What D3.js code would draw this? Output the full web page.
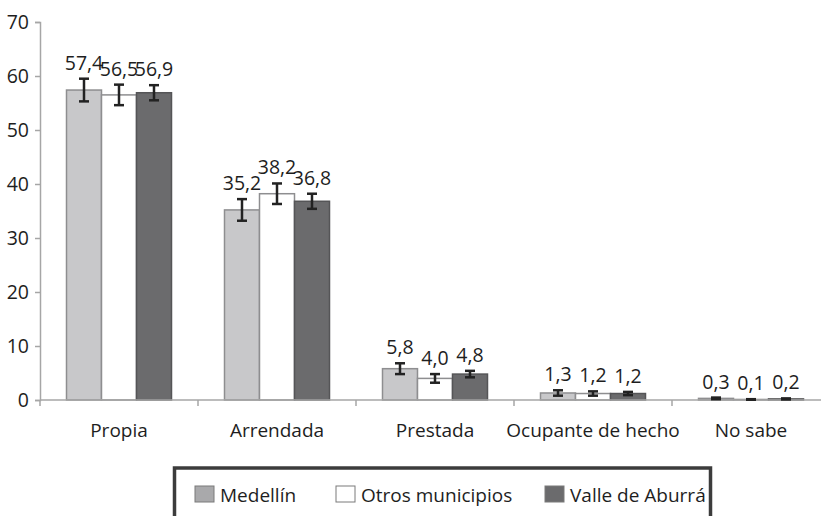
<!DOCTYPE html>
<html>
<head>
<meta charset="utf-8">
<script src="https://cdn.jsdelivr.net/npm/d3@7"></script>
<style>
  body { margin: 0; background: #fff; }
  svg { display: block; font-family: "Open Sans", sans-serif; }
</style>
</head>
<body>
<div id="chart"><svg width="821" height="516"></svg></div>
<script>
var categories = ["Propia", "Arrendada", "Prestada", "Ocupante de hecho", "No sabe"];
var seriesNames = ["Medellín", "Otros municipios", "Valle de Aburrá"];

var medellin = [57.4, 35.2, 5.8, 1.3, 0.3];
var otros = [56.5, 38.2, 4.0, 1.2, 0.1];
var valle = [56.9, 36.8, 4.8, 1.2, 0.2];

// half-width of the confidence interval
var medellinErr = [2.1, 2.0, 1.0, 0.5, 0.15];
var otrosErr = [1.9, 1.9, 0.8, 0.4, 0.05];
var valleErr = [1.4, 1.4, 0.6, 0.3, 0.1];

var yTicks = [0, 10, 20, 30, 40, 50, 60, 70];

var fills = ["#c8c8ca", "#ffffff", "#6b6b6d"];
var strokes = ["#8e8e90", "#8e8e90", "#555557"];
var swatchFills = ["#a9a9ab", "#ffffff", "#6b6b6d"];

var values = [medellin, otros, valle];
var errors = [medellinErr, otrosErr, valleErr];

var svg = d3.select("#chart svg"),
  width = +svg.attr("width"),
  height = +svg.attr("height");

var x0 = d3.scaleBand()
  .domain(categories)
  .range([40, 830])
  .paddingInner(0)
  .paddingOuter(0);

var groupWidth = 105;
var x1 = d3.scaleBand()
  .domain(seriesNames)
  .range([0, groupWidth]);

var y = d3.scaleLinear()
  .domain([0, 70])
  .range([400, 22]);

// flatten into one list of bars
var bars = [];
categories.forEach(function (c, i) {
  seriesNames.forEach(function (s, j) {
    bars.push({ cat: c, series: s, idx: j, value: values[j][i], err: errors[j][i] });
  });
});

function barX(d) {
  return x0(d.cat) + (x0.bandwidth() - groupWidth) / 2 + x1(d.series);
}

// y axis
var yAxis = d3.axisLeft(y)
  .tickValues(yTicks)
  .tickSize(5)
  .tickPadding(6)
  .tickFormat(d3.format("d"));

var gy = svg.append("g")
  .attr("transform", "translate(40,0)")
  .call(yAxis);
gy.select(".domain").attr("stroke", "#a6a6a6").attr("stroke-width", 1.5);
gy.selectAll(".tick line").attr("stroke", "#a6a6a6").attr("stroke-width", 1.5);
gy.selectAll(".tick text")
  .attr("fill", "#1e1e1e")
  .style("font-size", "19.5px")
  .style("font-family", "Open Sans, sans-serif");

// bars
svg.append("g")
  .selectAll("rect")
  .data(bars)
  .enter().append("rect")
  .attr("x", barX)
  .attr("y", function (d) { return y(d.value); })
  .attr("width", x1.bandwidth())
  .attr("height", function (d) { return y(0) - y(d.value); })
  .attr("fill", function (d) { return fills[d.idx]; })
  .attr("stroke", function (d) { return strokes[d.idx]; })
  .attr("stroke-width", 1.5);

// x axis line and boundary ticks
svg.append("line")
  .attr("x1", 40).attr("x2", width)
  .attr("y1", y(0)).attr("y2", y(0))
  .attr("stroke", "#a6a6a6")
  .attr("stroke-width", 1.5);

svg.append("g")
  .selectAll("line")
  .data(categories)
  .enter().append("line")
  .attr("x1", function (d) { return x0(d); })
  .attr("x2", function (d) { return x0(d); })
  .attr("y1", y(0))
  .attr("y2", y(0) + 6)
  .attr("stroke", "#a6a6a6")
  .attr("stroke-width", 1.5);

svg.append("g")
  .selectAll("text")
  .data(categories)
  .enter().append("text")
  .attr("x", function (d) { return x0(d) + x0.bandwidth() / 2; })
  .attr("y", 437)
  .attr("text-anchor", "middle")
  .attr("fill", "#1e1e1e")
  .style("font-size", "19px")
  .text(function (d) { return d; });

// error bars
var eb = svg.append("g")
  .attr("stroke", "#222")
  .attr("stroke-width", 2.5)
  .selectAll("g")
  .data(bars)
  .enter().append("g")
  .attr("transform", function (d) {
    return "translate(" + (barX(d) + x1.bandwidth() / 2) + ",0)";
  });

eb.append("line")
  .attr("y1", function (d) { return y(d.value + d.err); })
  .attr("y2", function (d) { return y(d.value - d.err); });
eb.append("line")
  .attr("x1", -5).attr("x2", 5)
  .attr("y1", function (d) { return y(d.value + d.err); })
  .attr("y2", function (d) { return y(d.value + d.err); });
eb.append("line")
  .attr("x1", -5).attr("x2", 5)
  .attr("y1", function (d) { return y(d.value - d.err); })
  .attr("y2", function (d) { return y(d.value - d.err); });

// value labels
var fmt = function (v) { return d3.format(".1f")(v).replace(".", ","); };
svg.append("g")
  .selectAll("text")
  .data(bars)
  .enter().append("text")
  .attr("x", function (d) { return barX(d) + x1.bandwidth() / 2; })
  .attr("y", function (d) { return y(d.value + d.err) - 9; })
  .attr("text-anchor", "middle")
  .attr("fill", "#1e1e1e")
  .style("font-size", "19.5px")
  .text(function (d) { return fmt(d.value); });

// legend
var legend = svg.append("g");
legend.append("rect")
  .attr("x", 174.5)
  .attr("y", 468)
  .attr("width", 536)
  .attr("height", 70)
  .attr("fill", "none")
  .attr("stroke", "#3c3c3c")
  .attr("stroke-width", 3.5);

var legendX = [195, 336, 545];
var item = legend.selectAll("g.item")
  .data(seriesNames)
  .enter().append("g")
  .attr("class", "item")
  .attr("transform", function (d, i) { return "translate(" + legendX[i] + ",486)"; });

item.append("rect")
  .attr("width", 19)
  .attr("height", 16)
  .attr("fill", function (d, i) { return swatchFills[i]; })
  .attr("stroke", "#7a7a7a")
  .attr("stroke-width", 1);

item.append("text")
  .attr("x", 25)
  .attr("y", 16)
  .attr("fill", "#1e1e1e")
  .style("font-size", "19px")
  .text(function (d) { return d; });
</script>
</body>
</html>
